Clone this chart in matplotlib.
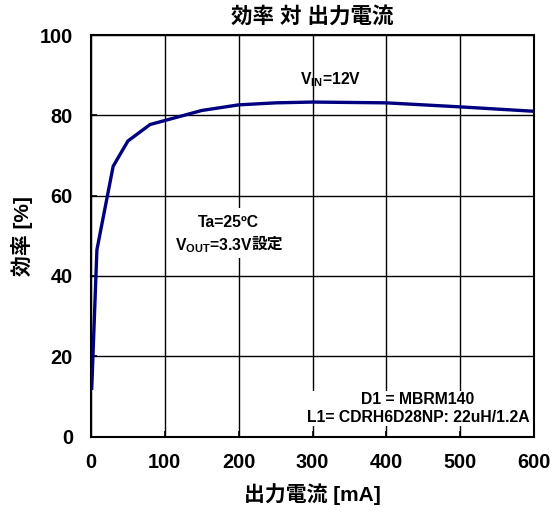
import matplotlib
matplotlib.use("Agg")
import matplotlib.pyplot as plt

plt.rcParams['font.family'] = ['Liberation Sans', 'Noto Sans CJK JP']
plt.rcParams['font.weight'] = 'bold'
plt.rcParams['mathtext.fontset'] = 'custom'
plt.rcParams['mathtext.rm'] = 'Liberation Sans:bold'
plt.rcParams['mathtext.bf'] = 'Liberation Sans:bold'
plt.rcParams['mathtext.it'] = 'Liberation Sans:bold'

current_ma = [1, 8, 30, 50, 80, 150, 200, 250, 300, 400, 500, 600]
efficiency = [12, 46.5, 67.3, 73.6, 77.7, 81.2, 82.6, 83.1, 83.3, 83.1, 82.1, 81.0]
x_ticks = [0, 100, 200, 300, 400, 500, 600]
y_ticks = [0, 20, 40, 60, 80, 100]

title = "効率 対 出力電流"
xlabel = "出力電流 [mA]"
ylabel = "効率 [%]"

fig = plt.figure(figsize=(5.52, 5.12), dpi=100)
ax = fig.add_axes([91/552, 1 - 436.5/512, (534-91)/552, (436.5-35)/512])

ax.plot(current_ma, efficiency, color='#000080', lw=2.4, zorder=3, solid_joinstyle='miter')
ax.set_xlim(0, 600)
ax.set_ylim(0, 100)
ax.set_xticks(x_ticks)
ax.set_yticks(y_ticks)
ax.grid(True, color='black', lw=1.0, zorder=0)
ax.set_axisbelow(True)
for s in ax.spines.values():
    s.set_linewidth(1.5)
ax.tick_params(direction='in', length=4, width=1.2, labelsize=14.3)
ax.tick_params(axis='x', pad=12)
ax.tick_params(axis='y', pad=13)
for lab in ax.get_xticklabels() + ax.get_yticklabels():
    lab.set_fontweight('bold')

ax.set_title(title, fontsize=15.5, fontweight='bold', pad=9)
ax.set_xlabel(xlabel, fontsize=15, fontweight='bold', labelpad=8)
ax.set_ylabel(ylabel, fontsize=15, fontweight='bold', labelpad=5)

fs = 11.3
ax.text(324, 88.8, r"V$_{\mathbf{IN}}$=12V", ha='center', va='center', fontsize=fs, fontweight='bold')

ax.text(186, 53.4, "Ta=25ºC", ha='center', va='center', fontsize=fs, fontweight='bold',
        bbox=dict(facecolor='white', edgecolor='none', pad=4.5), zorder=4)
t2 = ax.text(114, 46.4, r"V$_{\mathbf{OUT}}$=3.3V", ha='left', va='baseline',
             fontsize=fs, fontweight='bold',
             bbox=dict(facecolor='white', edgecolor='none', pad=2), zorder=4)
ax.annotate("設定", xy=(1, 1), xycoords=t2, xytext=(-1.2, -0.5), textcoords='offset points',
            ha='left', va='top', fontsize=fs, fontweight='bold',
            bbox=dict(facecolor='white', edgecolor='none', pad=0), zorder=4.5)

ax.text(443, 7.0, "D1 = MBRM140\nL1= CDRH6D28NP: 22uH/1.2A", ha='center', va='center',
        fontsize=fs, fontweight='bold', linespacing=1.2,
        bbox=dict(facecolor='white', edgecolor='none', pad=1), zorder=4)

fig.savefig("out.png", dpi=100)
